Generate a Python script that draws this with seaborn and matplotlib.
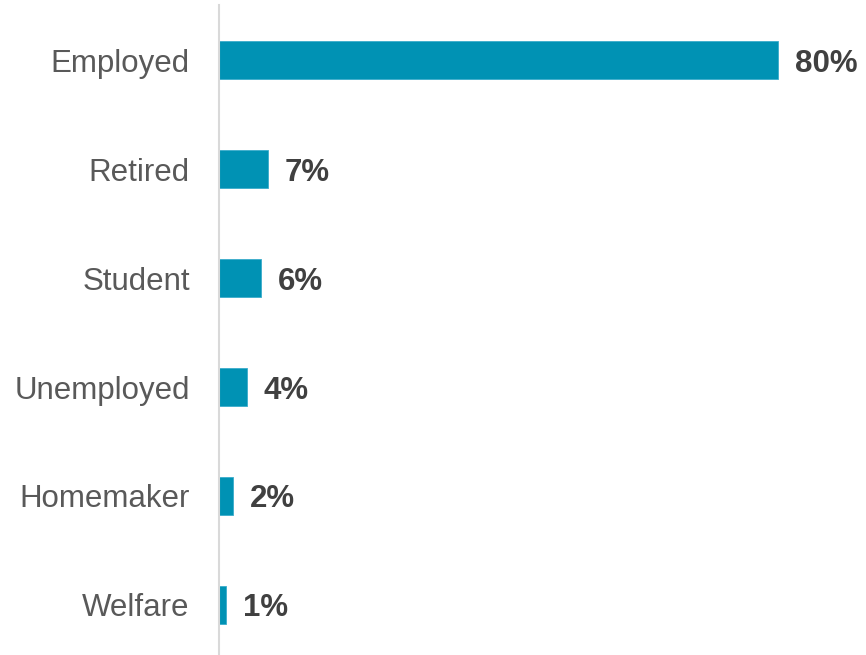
import matplotlib
matplotlib.use("Agg")
import matplotlib.pyplot as plt
import seaborn as sns
import pandas as pd

categories = ["Employed", "Retired", "Student", "Unemployed", "Homemaker", "Welfare"]
shares = [80, 7, 6, 4, 2, 1]
value_labels = ["80%", "7%", "6%", "4%", "2%", "1%"]

sns.set_theme(style="white")
plt.rcParams["font.family"] = ["Liberation Sans", "DejaVu Sans"]

W, H = 866, 655
fig = plt.figure(figsize=(W / 100, H / 100), dpi=100)
ax_left, ax_right = 219, 866
ax_top, ax_bottom = 5, 655
ax = fig.add_axes([ax_left / W, 1 - ax_bottom / H, (ax_right - ax_left) / W, (ax_bottom - ax_top) / H])

df = pd.DataFrame({"status": categories, "share": shares})
sns.barplot(data=df, x="share", y="status", orient="h", color="#0092b4",
            saturation=1, width=0.35, ax=ax, edgecolor="#3aaccb", linewidth=0.6)

px_per_unit = 559 / 80
ax.set_xlim(0, (ax_right - ax_left) / px_per_unit)
ax.set_ylim(5.459, -0.505)

for i, (v, lab) in enumerate(zip(shares, value_labels)):
    ax.text(v + 17 / px_per_unit, i, lab, va="center_baseline", ha="left",
            fontsize=22.5, fontweight="bold", color="#404040")

ax.set_xlabel("")
ax.set_ylabel("")
ax.set_xticks([])
ax.tick_params(axis="y", length=0, pad=21, labelsize=22.5, labelcolor="#595959")
for side in ["top", "right", "bottom"]:
    ax.spines[side].set_visible(False)
ax.spines["left"].set_color("#d9d9d9")
ax.spines["left"].set_linewidth(1.5)

fig.savefig("out.png", dpi=100)
